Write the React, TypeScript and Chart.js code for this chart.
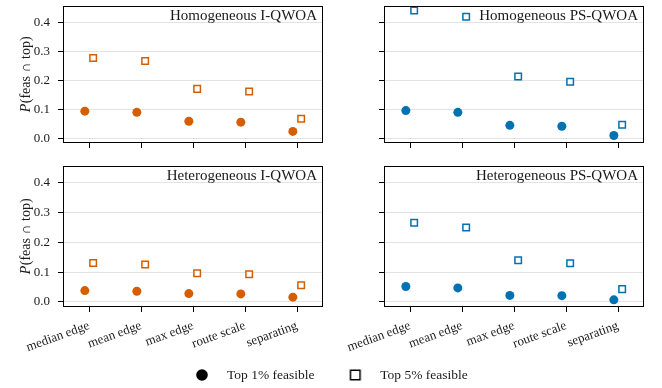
import React, { useEffect, useRef } from 'react';
import { Chart, registerables } from 'chart.js';
Chart.register(...registerables);

// ---------- data ----------
const categories = ['median edge', 'mean edge', 'max edge', 'route scale', 'separating'];
const yTickValues = [0, 0.1, 0.2, 0.3, 0.4];
const legendLabels = ['Top 1% feasible', 'Top 5% feasible'];
const panelTitles = ['Homogeneous I-QWOA', 'Homogeneous PS-QWOA', 'Heterogeneous I-QWOA', 'Heterogeneous PS-QWOA'];

const homIQwoaTop1 = [0.093, 0.089, 0.058, 0.055, 0.023];
const homIQwoaTop5 = [0.277, 0.266, 0.17, 0.161, 0.067];
const homPsQwoaTop1 = [0.095, 0.089, 0.044, 0.041, 0.009];
const homPsQwoaTop5 = [0.441, 0.419, 0.213, 0.195, 0.046];
const hetIQwoaTop1 = [0.038, 0.036, 0.028, 0.027, 0.016];
const hetIQwoaTop5 = [0.131, 0.126, 0.096, 0.093, 0.056];
const hetPsQwoaTop1 = [0.052, 0.047, 0.022, 0.021, 0.007];
const hetPsQwoaTop5 = [0.266, 0.25, 0.14, 0.13, 0.043];

// ---------- style ----------
const FONT = "'Liberation Serif', 'DejaVu Serif', 'Times New Roman', serif";
const ORANGE = '#D55E00';
const BLUE = '#0072B2';
const TEXT = '#1a1a1a';
const DODGE = 0.08;

type Panel = {
  title: string; top1: number[]; top5: number[]; color: string;
  left: number; top: number; width: number; height: number;
  aL: number; aT: number; aR: number; aB: number;
  showX: boolean; showY: boolean;
};

const panels: Panel[] = [
  { title: panelTitles[0], top1: homIQwoaTop1, top5: homIQwoaTop5, color: ORANGE, left: 0, top: 0, width: 331, height: 160, aL: 63, aT: 3, aR: 323, aB: 143, showX: false, showY: true },
  { title: panelTitles[1], top1: homPsQwoaTop1, top5: homPsQwoaTop5, color: BLUE, left: 331, top: 0, width: 331, height: 160, aL: 53, aT: 3, aR: 313, aB: 143, showX: false, showY: false },
  { title: panelTitles[2], top1: hetIQwoaTop1, top5: hetIQwoaTop5, color: ORANGE, left: 0, top: 160, width: 331, height: 200, aL: 63, aT: 5, aR: 323, aB: 147, showX: true, showY: true },
  { title: panelTitles[3], top1: hetPsQwoaTop1, top5: hetPsQwoaTop5, color: BLUE, left: 331, top: 160, width: 331, height: 200, aL: 53, aT: 5, aR: 313, aB: 147, showX: true, showY: false },
];

function makePanel(canvas: HTMLCanvasElement, p: Panel): Chart {
  const decor = {
    id: 'decor' + p.title,
    afterDraw(chart: any) {
      const ctx = chart.ctx as CanvasRenderingContext2D;
      const a = chart.chartArea;
      ctx.save();
      // spines
      ctx.strokeStyle = '#000';
      ctx.lineWidth = 1;
      const l = Math.round(a.left) + 0.5, t = Math.round(a.top) + 0.5;
      const r = Math.round(a.right) - 0.5, b = Math.round(a.bottom) - 0.5;
      ctx.strokeRect(l, t, r - l, b - t);
      // panel title
      ctx.fillStyle = TEXT;
      ctx.font = `15px ${FONT}`;
      ctx.textAlign = 'right';
      ctx.textBaseline = 'middle';
      ctx.fillText(p.title, a.right - 6, a.top + 10);
      // y label
      if (p.showY) {
        ctx.translate(26, (a.top + a.bottom) / 2);
        ctx.rotate(-Math.PI / 2);
        ctx.textBaseline = 'middle';
        ctx.textAlign = 'left';
        const italic = `italic 14px ${FONT}`;
        const normal = `14px ${FONT}`;
        ctx.font = italic;
        const wP = ctx.measureText('P').width;
        ctx.font = normal;
        const rest = '(feas \u2229 top)';
        const wR = ctx.measureText(rest).width;
        const start = -(wP + wR) / 2;
        ctx.font = italic;
        ctx.fillText('P', start, 0);
        ctx.font = normal;
        ctx.fillText(rest, start + wP + 0.5, 0);
      }
      ctx.restore();
    },
  };

  return new Chart(canvas, {
    type: 'scatter',
    data: {
      datasets: [
        {
          label: legendLabels[0],
          data: p.top1.map((v, i) => ({ x: i - DODGE, y: v })),
          pointStyle: 'circle',
          pointRadius: 4.5,
          pointHoverRadius: 4.5,
          backgroundColor: p.color,
          borderColor: p.color,
          borderWidth: 0,
        },
        {
          label: legendLabels[1],
          data: p.top5.map((v, i) => ({ x: i + DODGE, y: v })),
          pointStyle: 'rect',
          pointRadius: 4.6,
          pointHoverRadius: 4.6,
          backgroundColor: '#ffffff',
          borderColor: p.color,
          borderWidth: 1.5,
        },
      ],
    },
    options: {
      animation: false,
      responsive: false,
      maintainAspectRatio: false,
      events: [],
      layout: { padding: { left: 0, top: p.aT, right: p.width - p.aR, bottom: 0 } },
      plugins: { legend: { display: false }, tooltip: { enabled: false } },
      scales: {
        x: {
          type: 'linear',
          min: -0.5,
          max: 4.5,
          afterBuildTicks: (s: any) => { s.ticks = categories.map((_, i) => ({ value: i })); },
          afterFit: (s: any) => { s.height = p.height - p.aB; s.paddingLeft = 0; s.paddingRight = 0; },
          ticks: {
            autoSkip: false,
            minRotation: 20,
            maxRotation: 20,
            padding: 6,
            color: TEXT,
            font: { family: FONT, size: 13 },
            callback: (v: any) => (p.showX ? categories[Math.round(Number(v))] : ''),
          },
          grid: { drawOnChartArea: false, drawTicks: true, tickLength: 5, tickColor: '#000', tickWidth: 1 },
          border: { display: false },
        },
        y: {
          type: 'linear',
          min: -0.017,
          max: 0.456,
          afterBuildTicks: (s: any) => { s.ticks = yTickValues.map((v) => ({ value: v })); },
          afterFit: (s: any) => { s.width = p.aL; s.paddingTop = 0; s.paddingBottom = 0; },
          ticks: {
            padding: 8,
            color: TEXT,
            font: { family: FONT, size: 13 },
            callback: (v: any) => (p.showY ? Number(v).toFixed(1) : ''),
          },
          grid: { color: '#e3e3e3', lineWidth: 1, drawTicks: true, tickLength: 5, tickColor: '#000', tickWidth: 1 },
          border: { display: false },
        },
      },
    } as any,
    plugins: [decor],
  });
}

function markerCanvas(kind: 'circle' | 'square'): HTMLCanvasElement {
  const c = document.createElement('canvas');
  c.width = 14; c.height = 14;
  const ctx = c.getContext('2d')!;
  if (kind === 'circle') {
    ctx.fillStyle = '#000';
    ctx.beginPath();
    ctx.arc(7, 7, 5.8, 0, Math.PI * 2);
    ctx.fill();
  } else {
    ctx.fillStyle = '#fff';
    ctx.fillRect(2.25, 2.25, 9.5, 9.5);
    ctx.strokeStyle = '#000';
    ctx.lineWidth = 1.5;
    ctx.strokeRect(2.25, 2.25, 9.5, 9.5);
  }
  return c;
}

function makeLegend(canvas: HTMLCanvasElement): Chart {
  const circle = markerCanvas('circle');
  const square = markerCanvas('square');
  return new Chart(canvas, {
    type: 'scatter',
    data: {
      datasets: [
        { label: legendLabels[0], data: [] },
        { label: legendLabels[1], data: [] },
      ],
    },
    options: {
      animation: false,
      responsive: false,
      maintainAspectRatio: false,
      events: [],
      layout: { padding: { left: 161.25, top: 5.75, right: 0, bottom: 0 } },
      scales: { x: { display: false }, y: { display: false } },
      plugins: {
        tooltip: { enabled: false },
        legend: {
          display: true,
          position: 'top',
          align: 'start',
          maxHeight: 120,
          labels: {
            usePointStyle: true,
            pointStyleWidth: 36.5,
            boxHeight: 13,
            padding: 22.5,
            color: TEXT,
            font: { family: FONT, size: 13.5 },
            generateLabels: () => [
              { text: legendLabels[0], pointStyle: circle, fillStyle: '#000', strokeStyle: '#000', lineWidth: 0, hidden: false, datasetIndex: 0, fontColor: TEXT },
              { text: legendLabels[1], pointStyle: square, fillStyle: '#fff', strokeStyle: '#000', lineWidth: 0, hidden: false, datasetIndex: 1, fontColor: TEXT },
            ] as any,
          },
        },
      },
    } as any,
  });
}

export default function App() {
  const refs = useRef<(HTMLCanvasElement | null)[]>([]);
  const legendRef = useRef<HTMLCanvasElement | null>(null);

  useEffect(() => {
    const charts: Chart[] = [];
    panels.forEach((p, i) => {
      const c = refs.current[i];
      if (c) charts.push(makePanel(c, p));
    });
    if (legendRef.current) charts.push(makeLegend(legendRef.current));
    return () => charts.forEach((c) => c.destroy());
  }, []);

  return (
    <div style={{ position: 'absolute', left: 0, top: 0, width: 662, height: 388, background: '#fff', overflow: 'hidden' }}>
      {panels.map((p, i) => (
        <canvas
          key={i}
          ref={(el) => { refs.current[i] = el; }}
          width={p.width}
          height={p.height}
          style={{ position: 'absolute', left: p.left, top: p.top, width: p.width, height: p.height }}
        />
      ))}
      <canvas
        ref={legendRef}
        width={662}
        height={48}
        style={{ position: 'absolute', left: 0, top: 340, width: 662, height: 48 }}
      />
    </div>
  );
}
